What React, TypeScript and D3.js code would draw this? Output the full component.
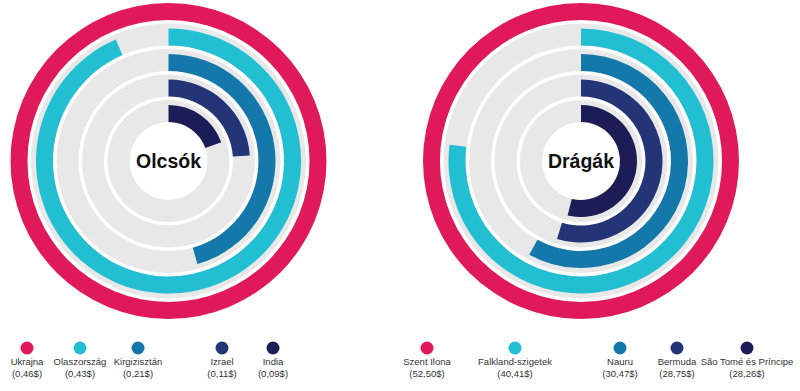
import React from "react";
import * as d3 from "d3";

// ---- Data ----
const cheapNames = ["Ukrajna", "Olaszország", "Kirgizisztán", "Izrael", "India"];
const cheapValues = [0.46, 0.43, 0.21, 0.11, 0.09];
const expensiveNames = ["Szent Ilona", "Falkland-szigetek", "Nauru", "Bermuda", "São Tomé és Príncipe"];
const expensiveValues = [52.5, 40.41, 30.47, 28.75, 28.26];
const chartTitles = ["Olcsók", "Drágák"];
const ringColors = ["#e0195a", "#22bfd3", "#1479aa", "#243577", "#1c1c56"];

// ---- Layout ----
const W = 800;
const H = 391;
const centers = [
  { x: 168.5, y: 161 },
  { x: 581, y: 161 },
];
const innerBase = 39;
const pitch = 25.5;
const barWidth = 17;
const trackWidth = 22;
const legendX = [
  [27, 80, 138, 222, 273],
  [427, 515, 620, 677, 747],
];
const legendCircleY = 348;
const FONT = "Arial, 'Liberation Sans', Helvetica, sans-serif";

const fmt = (v: number) => d3.format(".2f")(v).replace(".", ",") + "$";

function Rings({ names, values, title, cx, cy, lx }: { names: string[]; values: number[]; title: string; cx: number; cy: number; lx: number[] }) {
  const max = d3.max(values) as number;
  const angle = d3.scaleLinear().domain([0, max]).range([0, 2 * Math.PI]);
  const n = values.length;
  const arcs = values.map((v, i) => {
    const inner = innerBase + (n - 1 - i) * pitch;
    const track = d3.arc()({ innerRadius: inner, outerRadius: inner + trackWidth, startAngle: 0, endAngle: 2 * Math.PI } as any) as string;
    const bar = d3.arc()({ innerRadius: inner, outerRadius: inner + barWidth, startAngle: 0, endAngle: angle(v) } as any) as string;
    return { track, bar, color: ringColors[i], i };
  });
  return (
    <g>
      <g transform={`translate(${cx},${cy})`}>
        {arcs.map((a) => (a.i > 0 ? <path key={"t" + a.i} d={a.track} fill="#e8e8e8" /> : null))}
        {arcs.map((a) => (
          <path key={"b" + a.i} d={a.bar} fill={a.color} />
        ))}
        <text x={0} y={7} textAnchor="middle" fontFamily={FONT} fontWeight="bold" fontSize={19.5} fill="#111">
          {title}
        </text>
      </g>
      {names.map((nm, i) => (
        <g key={nm} transform={`translate(${lx[i]},0)`}>
          <circle cx={0} cy={legendCircleY} r={6.5} fill={ringColors[i]} />
          <text x={0} y={365} textAnchor="middle" fontFamily={FONT} fontSize={9.5} fill="#333">
            {nm}
          </text>
          <text x={0} y={377} textAnchor="middle" fontFamily={FONT} fontSize={9.5} fill="#333">
            ({fmt(values[i])})
          </text>
        </g>
      ))}
    </g>
  );
}

export default function App() {
  return (
    <svg width={W} height={H} style={{ position: "absolute", left: 0, top: 0, background: "#fff" }}>
      <rect width={W} height={H} fill="#fff" />
      <Rings names={cheapNames} values={cheapValues} title={chartTitles[0]} cx={centers[0].x} cy={centers[0].y} lx={legendX[0]} />
      <Rings names={expensiveNames} values={expensiveValues} title={chartTitles[1]} cx={centers[1].x} cy={centers[1].y} lx={legendX[1]} />
    </svg>
  );
}
